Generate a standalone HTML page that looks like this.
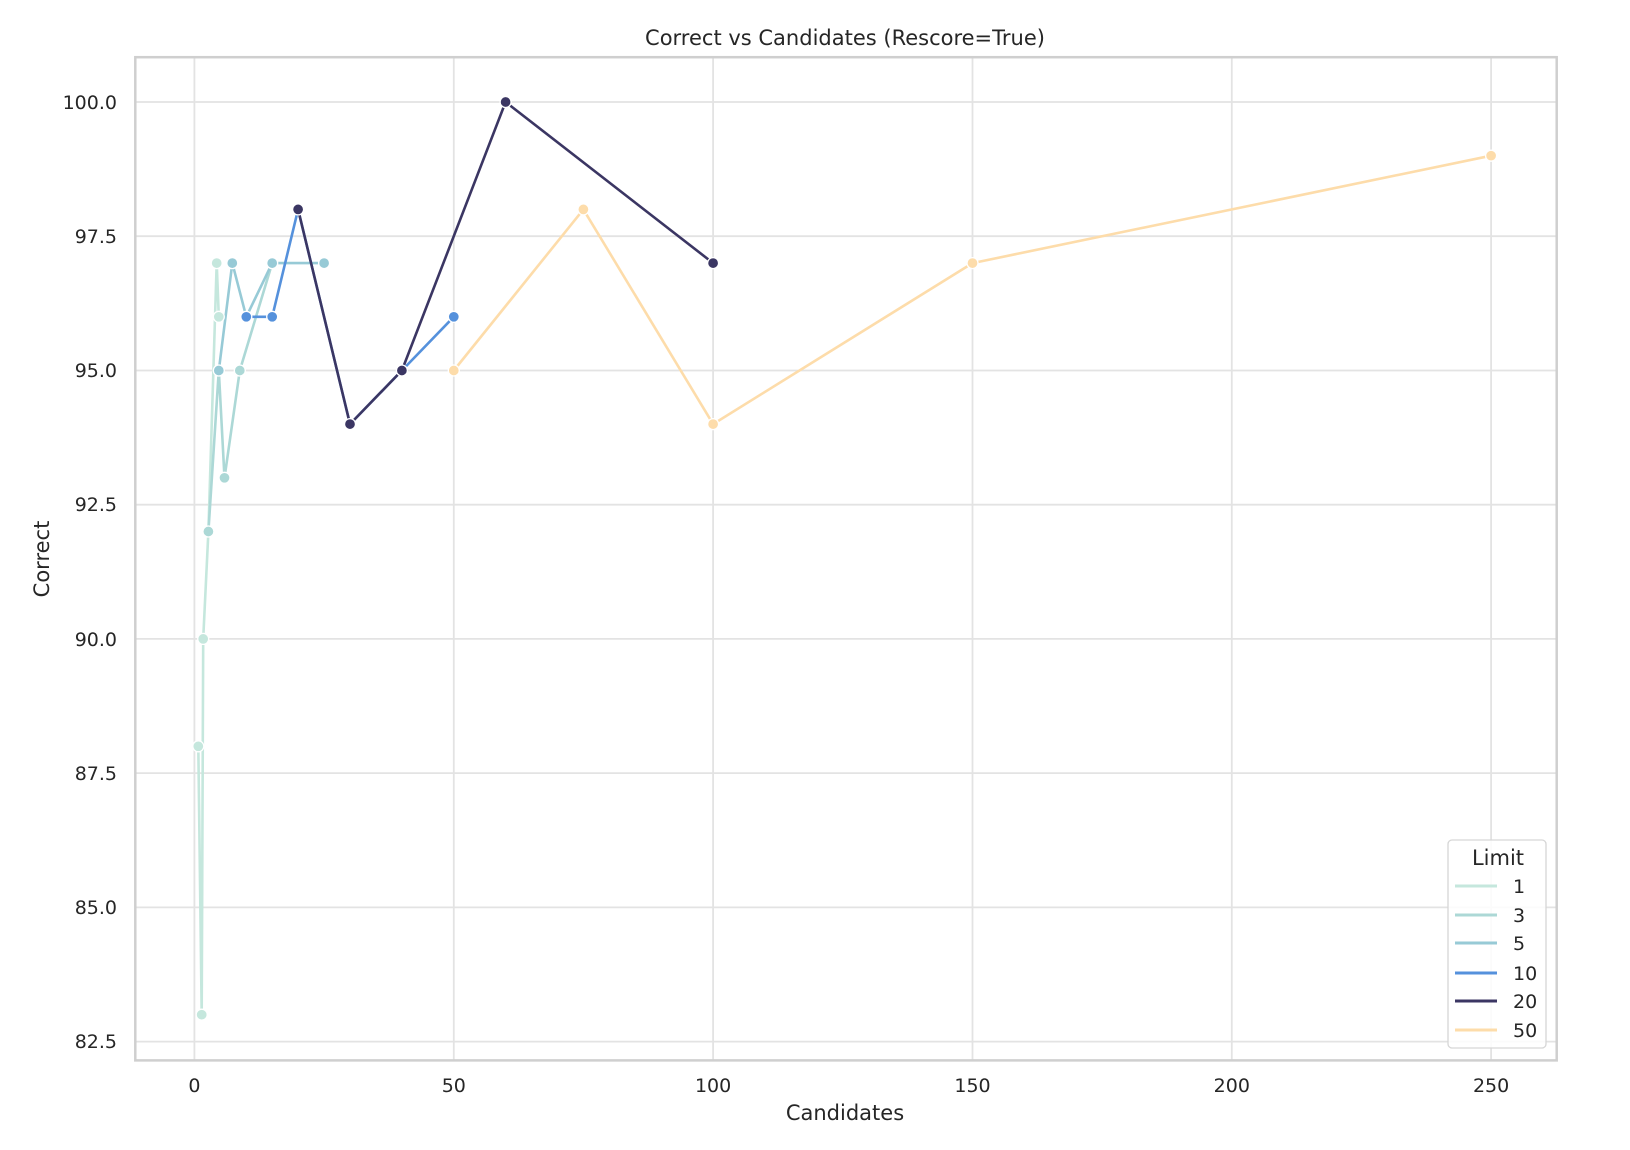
<!DOCTYPE html>
<html><head><meta charset="utf-8"><style>
html,body{margin:0;padding:0;background:#fff;}
svg{display:block;font-family:"DejaVu Sans","Liberation Sans",sans-serif;}
</style></head><body>
<svg width="1630" height="1150" viewBox="0 0 1630 1150" xmlns="http://www.w3.org/2000/svg">
<rect width="1630" height="1150" fill="#fff"/>
<g stroke="#e3e3e3" stroke-width="1.8">
<line x1="194.4" y1="57.2" x2="194.4" y2="1060.4"/>
<line x1="453.8" y1="57.2" x2="453.8" y2="1060.4"/>
<line x1="713.1" y1="57.2" x2="713.1" y2="1060.4"/>
<line x1="972.5" y1="57.2" x2="972.5" y2="1060.4"/>
<line x1="1231.8" y1="57.2" x2="1231.8" y2="1060.4"/>
<line x1="1491.1" y1="57.2" x2="1491.1" y2="1060.4"/>
<line x1="135.3" y1="102" x2="1556.7" y2="102"/>
<line x1="135.3" y1="236.2" x2="1556.7" y2="236.2"/>
<line x1="135.3" y1="370.5" x2="1556.7" y2="370.5"/>
<line x1="135.3" y1="504.7" x2="1556.7" y2="504.7"/>
<line x1="135.3" y1="638.9" x2="1556.7" y2="638.9"/>
<line x1="135.3" y1="773.1" x2="1556.7" y2="773.1"/>
<line x1="135.3" y1="907.4" x2="1556.7" y2="907.4"/>
<line x1="135.3" y1="1041.6" x2="1556.7" y2="1041.6"/>
</g>
<rect x="135.3" y="57.2" width="1421.4" height="1003.2" fill="none" stroke="#cfcfcf" stroke-width="2.5"/>
<g font-size="19" fill="#262626" text-anchor="end">
<text x="117" y="109">100.0</text>
<text x="117" y="243">97.5</text>
<text x="117" y="377">95.0</text>
<text x="117" y="511">92.5</text>
<text x="117" y="646">90.0</text>
<text x="117" y="780">87.5</text>
<text x="117" y="914">85.0</text>
<text x="117" y="1048">82.5</text>
</g>
<g font-size="19" fill="#262626" text-anchor="middle">
<text x="194.4" y="1092">0</text>
<text x="453.8" y="1092">50</text>
<text x="713.1" y="1092">100</text>
<text x="972.5" y="1092">150</text>
<text x="1231.8" y="1092">200</text>
<text x="1491.1" y="1092">250</text>
<text x="845" y="1120" font-size="21">Candidates</text>
<text x="845" y="45" font-size="21">Correct vs Candidates (Rescore=True)</text>
</g>
<text x="49" y="559" font-size="21" fill="#262626" text-anchor="middle" transform="rotate(-90 49 559)">Correct</text>
<g fill="none" stroke-width="2.6" stroke-linejoin="round">
<polyline stroke="#c5e7dd" points="198.3,746.3 201.7,1014.7 203.2,638.9 208.4,531.5 216.7,263.1 218.8,316.8"/>
<polyline stroke="#acd8d6" points="208.4,531.5 218.8,370.5 224.5,477.8 239.8,370.5 272.2,263.1"/>
<polyline stroke="#97cad6" points="218.8,370.5 232.3,263.1 246.3,316.8 272.2,263.1 324.1,263.1"/>
<polyline stroke="#5591dc" points="246.3,316.8 272.2,316.8 298.1,209.4 350,424.1 401.9,370.5 453.8,316.8"/>
<polyline stroke="#3b3663" points="298.1,209.4 350,424.1 401.9,370.5 505.6,102 713.1,263.1"/>
<polyline stroke="#fddcaa" points="453.8,370.5 583.4,209.4 713.1,424.1 972.5,263.1 1491.1,155.7"/>
</g>
<g stroke="#fff" stroke-width="1.3">
<g fill="#c5e7dd"><circle cx="198.3" cy="746.3" r="5.5"/><circle cx="201.7" cy="1014.7" r="5.5"/><circle cx="203.2" cy="638.9" r="5.5"/><circle cx="216.7" cy="263.1" r="5.5"/><circle cx="218.8" cy="316.8" r="5.5"/></g>
<g fill="#acd8d6"><circle cx="208.4" cy="531.5" r="5.5"/><circle cx="224.5" cy="477.8" r="5.5"/><circle cx="239.8" cy="370.5" r="5.5"/></g>
<g fill="#97cad6"><circle cx="218.8" cy="370.5" r="5.5"/><circle cx="232.3" cy="263.1" r="5.5"/><circle cx="272.2" cy="263.1" r="5.5"/><circle cx="324.1" cy="263.1" r="5.5"/></g>
<g fill="#5591dc"><circle cx="246.3" cy="316.8" r="5.5"/><circle cx="272.2" cy="316.8" r="5.5"/><circle cx="453.8" cy="316.8" r="5.5"/></g>
<g fill="#3b3663"><circle cx="298.1" cy="209.4" r="5.5"/><circle cx="350" cy="424.1" r="5.5"/><circle cx="401.9" cy="370.5" r="5.5"/><circle cx="505.6" cy="102" r="5.5"/><circle cx="713.1" cy="263.1" r="5.5"/></g>
<g fill="#fddcaa"><circle cx="453.8" cy="370.5" r="5.5"/><circle cx="583.4" cy="209.4" r="5.5"/><circle cx="713.1" cy="424.1" r="5.5"/><circle cx="972.5" cy="263.1" r="5.5"/><circle cx="1491.1" cy="155.7" r="5.5"/></g>
</g>
<rect x="1448" y="840" width="98" height="208" rx="4" fill="#fff" fill-opacity="0.85" stroke="#d6d6d6" stroke-width="1.3"/>
<text x="1498" y="865" font-size="21" fill="#262626" text-anchor="middle">Limit</text>
<g stroke-width="3">
<line x1="1455" y1="886" x2="1497" y2="886" stroke="#c5e7dd"/>
<line x1="1455" y1="915" x2="1497" y2="915" stroke="#acd8d6"/>
<line x1="1455" y1="943" x2="1497" y2="943" stroke="#97cad6"/>
<line x1="1455" y1="973" x2="1497" y2="973" stroke="#5591dc"/>
<line x1="1455" y1="1001" x2="1497" y2="1001" stroke="#3b3663"/>
<line x1="1455" y1="1030" x2="1497" y2="1030" stroke="#fddcaa"/>
</g>
<g font-size="19" fill="#262626">
<text x="1513" y="893">1</text>
<text x="1513" y="922">3</text>
<text x="1513" y="950">5</text>
<text x="1513" y="980">10</text>
<text x="1513" y="1008">20</text>
<text x="1513" y="1037">50</text>
</g>
</svg>
</body></html>
